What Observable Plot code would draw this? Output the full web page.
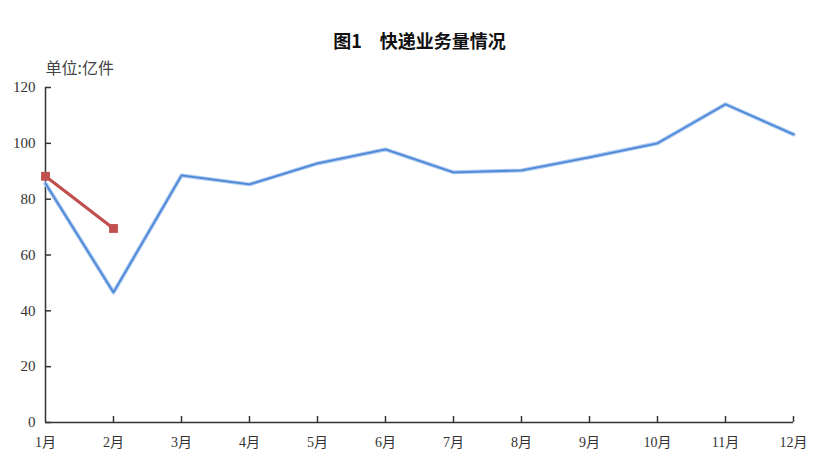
<!DOCTYPE html>
<html><head><meta charset="utf-8">
<script src="https://cdn.jsdelivr.net/npm/d3@7"></script>
<script src="https://cdn.jsdelivr.net/npm/@observablehq/plot@0.6"></script>
<style>body{margin:0;background:#fff;} svg{display:block;}</style>
</head><body><div id="chart"></div>
<script>
const months = ["1月","2月","3月","4月","5月","6月","7月","8月","9月","10月","11月","12月"];
const prevYear = [85.6, 46.6, 88.5, 85.3, 92.8, 97.8, 89.6, 90.3, 95.0, 100.0, 114.0, 103.2];
const currMonths = ["1月","2月"];
const currYear = [88.2, 69.5];
const yTicks = [0, 20, 40, 60, 80, 100, 120];
const titleText = "图1　快递业务量情况";
const unitText = "单位:亿件";

const blue = prevYear.map((v,i)=>({m: months[i], v}));
const red = currYear.map((v,i)=>({m: currMonths[i], v}));
const font = "'Liberation Serif', 'Noto Sans CJK SC', serif";

const chart = Plot.plot({
  width: 824, height: 466,
  marginLeft: 45, marginRight: 31, marginTop: 87, marginBottom: 44,
  style: {fontFamily: font, fontSize: "15px", color: "#222", background: "#fff"},
  x: {type: "point", domain: months, padding: 0, label: null},
  y: {domain: [0, 120], ticks: yTicks, label: null},
  marks: [
    // tick marks pointing inward
    Plot.axisY({ticks: yTicks, tickSize: 6, dx: 6, tickFormat: () => "", stroke: "#333", strokeWidth: 1.5, label: null}),
    Plot.axisX({ticks: months.slice(1), tickSize: 6, dy: -6, tickFormat: () => "", stroke: "#333", strokeWidth: 1.5, label: null}),
    // tick labels
    Plot.axisY({ticks: yTicks, tickSize: 0, tickPadding: 10, fontSize: 15, fill: "#333", label: null}),
    Plot.axisX({tickSize: 0, tickPadding: 15, fontSize: 14, fill: "#333", label: null}),
    Plot.ruleX([months[0]], {stroke: "#333", strokeWidth: 1.5}),
    Plot.ruleY([0], {stroke: "#333", strokeWidth: 1.5}),
    Plot.lineY(blue, {x: "m", y: "v", stroke: "#a9c8f0", strokeWidth: 4}),
    Plot.lineY(blue, {x: "m", y: "v", stroke: "#4f88d6", strokeWidth: 1.8}),
    Plot.lineY(red, {x: "m", y: "v", stroke: "#c0504d", strokeWidth: 3.2}),
    Plot.dot(red, {x: "m", y: "v", symbol: "square", fill: "#c0504d", r: 5}),
    Plot.text([titleText], {frameAnchor: "top", dy: -52, fontSize: 18, fontWeight: 600, fill: "#111", fontFamily: "'Noto Sans CJK SC', sans-serif"}),
    Plot.text([unitText], {frameAnchor: "top-left", dy: -25, dx: 0, textAnchor: "start", fontSize: 16, fill: "#444", fontFamily: "'Noto Sans CJK SC', sans-serif"})
  ]
});
document.getElementById("chart").appendChild(chart);
</script></body></html>
